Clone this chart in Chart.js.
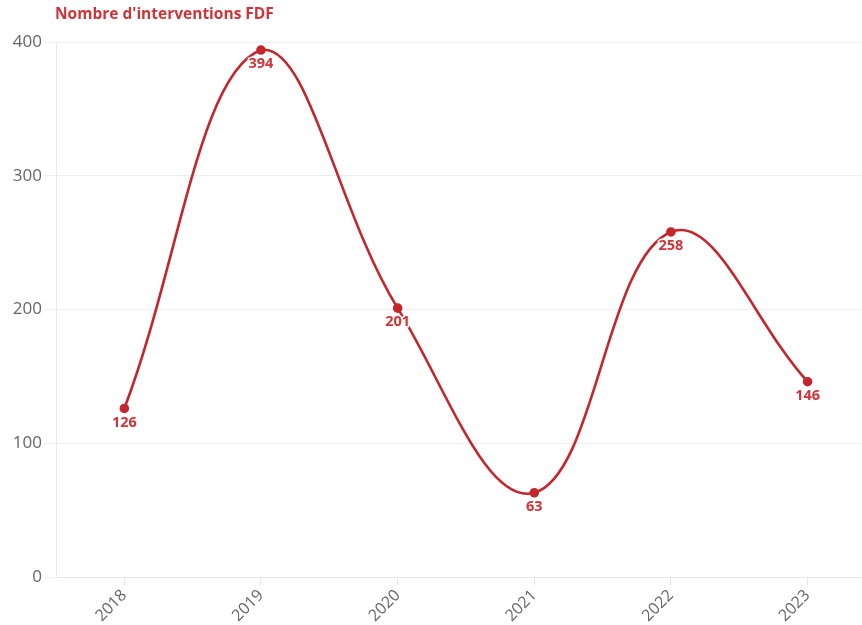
<!DOCTYPE html>
<html>
<head>
<meta charset="utf-8">
<script src="https://cdn.jsdelivr.net/npm/chart.js@4"></script>
<style>
  html, body { margin: 0; padding: 0; background: #fff; overflow: hidden; }
  canvas { display: block; }
</style>
</head>
<body>
<canvas id="chart" width="882" height="625"></canvas>
<script>
// data
const years = ["2018", "2019", "2020", "2021", "2022", "2023"];
const interventions = [126, 394, 201, 63, 258, 146];
const yTicks = [0, 100, 200, 300, 400];
const chartTitle = "Nombre d'interventions FDF";

const RED = "#c4262e";
const LABEL_RED = "#d13438";

// title aligned with the plot area, plus value labels under each point
const decorations = {
    id: "decorations",
    afterDraw(chart) {
        const ctx = chart.ctx;
        ctx.save();
        ctx.font = "bold 15.5px 'Open Sans'";
        ctx.fillStyle = LABEL_RED;
        ctx.textAlign = "left";
        ctx.textBaseline = "middle";
        ctx.fillText(chartTitle, 55, 15);
        ctx.restore();
    },
    afterDatasetsDraw(chart) {
        const ctx = chart.ctx;
        const meta = chart.getDatasetMeta(0);
        ctx.save();
        ctx.font = "bold 14.5px 'Open Sans'";
        ctx.textAlign = "center";
        ctx.textBaseline = "middle";
        ctx.lineJoin = "round";
        meta.data.forEach((pt, i) => {
            const txt = String(chart.data.datasets[0].data[i]);
            ctx.strokeStyle = "#fff";
            ctx.lineWidth = 3;
            ctx.strokeText(txt, pt.x, pt.y + 14);
            ctx.fillStyle = LABEL_RED;
            ctx.fillText(txt, pt.x, pt.y + 14);
        });
        ctx.restore();
    }
};

new Chart(document.getElementById("chart"), {
    type: "line",
    data: {
        labels: years,
        datasets: [{
            label: chartTitle,
            data: interventions,
            borderColor: RED,
            backgroundColor: RED,
            borderWidth: 2.6,
            pointRadius: 3.5,
            pointHoverRadius: 3.5,
            tension: 0.4
        }]
    },
    options: {
        responsive: false,
        animation: false,
        layout: { padding: { left: 0, right: 0, top: 42, bottom: 0 } },
        plugins: {
            legend: { display: false },
            tooltip: { enabled: false },
            title: { display: false }
        },
        scales: {
            x: {
                offset: true,
                grid: { display: true, drawOnChartArea: false, color: "#e8e8e8", tickLength: 8 },
                border: { color: "#e8e8e8" },
                ticks: {
                    color: "#666",
                    font: { family: "'Open Sans'", size: 16 },
                    maxRotation: 45,
                    minRotation: 45,
                    padding: 1
                },
                afterFit(s) { s.height = 48; }
            },
            y: {
                min: 0,
                max: 400,
                afterBuildTicks(s) { s.ticks = yTicks.map(v => ({ value: v })); },
                grid: { color: "#efefef", tickLength: 12 },
                border: { color: "#e8e8e8" },
                ticks: {
                    color: "#666",
                    font: { family: "'Open Sans'", size: 17 },
                    padding: 2
                },
                afterFit(s) { s.width = 56; }
            }
        }
    },
    plugins: [decorations]
});
</script>
</body>
</html>
